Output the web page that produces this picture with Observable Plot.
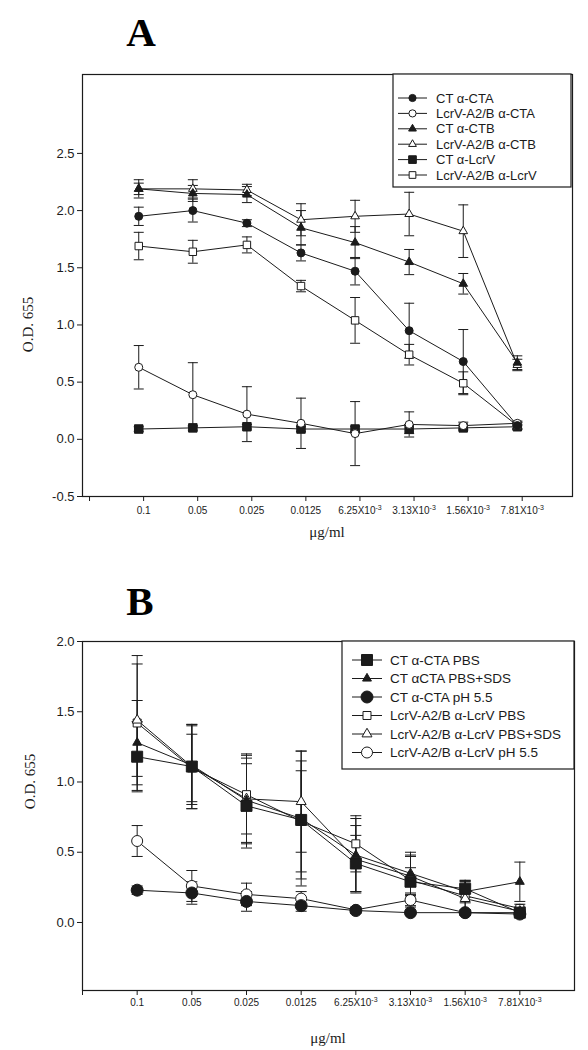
<!DOCTYPE html>
<html><head><meta charset="utf-8">
<script src="https://cdn.jsdelivr.net/npm/d3@7"></script>
<script src="https://cdn.jsdelivr.net/npm/@observablehq/plot@0.6"></script>
<style>
body{margin:0;background:#fff;}
#root{position:relative;width:588px;height:1050px;background:#fff;overflow:hidden;}
#root svg{position:absolute;left:0;}
</style>
</head><body><div id="root"></div>
<script>
// ---------- shared axis categories ----------
const concLabels = ["0.1","0.05","0.025","0.0125","6.25X10-3","3.13X10-3","1.56X10-3","7.81X10-3"];
const yTicksA = [-0.5, 0, 0.5, 1.0, 1.5, 2.0, 2.5];
const yTicksB = [0, 0.5, 1.0, 1.5, 2.0];

// ---------- Panel A ----------
const seriesA = ["CT \u03b1-CTA","LcrV-A2/B \u03b1-CTA","CT \u03b1-CTB","LcrV-A2/B \u03b1-CTB","CT \u03b1-LcrV","LcrV-A2/B \u03b1-LcrV"];
const aCtCta     = [1.95, 2.00, 1.89, 1.63, 1.47, 0.95, 0.68, 0.12];
const aCtCtaErr  = [0.08, 0.10, 0.03, 0.07, 0.12, 0.24, 0.28, 0.03];
const aLcrCta    = [0.63, 0.39, 0.22, 0.14, 0.05, 0.13, 0.12, 0.14];
const aLcrCtaErr = [0.19, 0.28, 0.24, 0.22, 0.28, 0.11, 0.03, 0.02];
const aCtCtb     = [2.19, 2.15, 2.14, 1.85, 1.72, 1.55, 1.36, 0.67];
const aCtCtbErr  = [0.08, 0.07, 0.07, 0.15, 0.14, 0.11, 0.09, 0.06];
const aLcrCtb    = [2.19, 2.19, 2.18, 1.92, 1.95, 1.97, 1.82, 0.65];
const aLcrCtbErr = [0.05, 0.08, 0.05, 0.14, 0.14, 0.19, 0.23, 0.05];
const aCtLcr     = [0.09, 0.10, 0.11, 0.09, 0.09, 0.09, 0.10, 0.11];
const aCtLcrErr  = [0.02, 0.02, 0.02, 0.02, 0.02, 0.04, 0.02, 0.02];
const aLcrLcr    = [1.69, 1.64, 1.70, 1.34, 1.04, 0.74, 0.49, 0.12];
const aLcrLcrErr = [0.12, 0.10, 0.07, 0.05, 0.20, 0.09, 0.10, 0.03];

// ---------- Panel B ----------
const seriesB = ["CT \u03b1-CTA PBS","CT \u03b1CTA PBS+SDS","CT \u03b1-CTA pH 5.5","LcrV-A2/B \u03b1-LcrV PBS","LcrV-A2/B \u03b1-LcrV PBS+SDS","LcrV-A2/B \u03b1-LcrV pH 5.5"];
const bCtPbs     = [1.18, 1.11, 0.83, 0.73, 0.42, 0.29, 0.24, 0.07];
const bCtPbsErr  = [0.25, 0.30, 0.30, 0.42, 0.20, 0.10, 0.06, 0.02];
const bCtSds     = [1.28, 1.12, 0.87, 0.74, 0.48, 0.35, 0.22, 0.29];
const bCtSdsErr  = [0.30, 0.28, 0.30, 0.48, 0.26, 0.15, 0.08, 0.14];
const bCtPh      = [0.23, 0.21, 0.15, 0.12, 0.085, 0.07, 0.07, 0.06];
const bCtPhErr   = [0.03, 0.08, 0.07, 0.04, 0.02, 0.01, 0.01, 0.01];
const bLcrPbs    = [1.42, 1.10, 0.91, 0.72, 0.56, 0.30, 0.19, 0.10];
const bLcrPbsErr = [0.48, 0.24, 0.28, 0.36, 0.20, 0.18, 0.10, 0.03];
const bLcrSds    = [1.44, 1.11, 0.88, 0.86, 0.45, 0.33, 0.17, 0.08];
const bLcrSdsErr = [0.40, 0.30, 0.32, 0.36, 0.24, 0.14, 0.12, 0.03];
const bLcrPh     = [0.58, 0.26, 0.20, 0.17, 0.09, 0.16, 0.07, 0.07];
const bLcrPhErr  = [0.11, 0.11, 0.08, 0.05, 0.02, 0.05, 0.02, 0.02];

// ---------- styles ----------
const ink = "#1b1b1b";
const symA = ["circle","circle","triangle","triangle","square","square"];
const filledA = [true,false,true,false,true,false];
const rA = [4, 4, 3.2, 3.2, 4.8, 4.2];
const symB = ["square","triangle","circle","square","triangle","circle"];
const filledB = [true,true,true,false,false,false];
const rB = [6.2, 3.3, 6, 4.5, 3.7, 5.5];
const d3sym = {circle: d3.symbolCircle, square: d3.symbolSquare, triangle: d3.symbolTriangle};

function makeRows(names, vals, errs) {
  return names.flatMap((s, k) => vals[k].map((v, j) => ({series: s, k, i: j + 1, y: v, e: errs[k][j]})));
}
function capSymbol(half) {
  return {draw(ctx) { ctx.moveTo(-half, 0); ctx.lineTo(half, 0); }};
}

function panel(cfg) {
  const rows = makeRows(cfg.names, cfg.vals, cfg.errs);
  const cap = capSymbol(cfg.capHalf);
  const xTicks = d3.range(0, 9).map(t => t + cfg.tickShift);
  const marks = [
    Plot.frame({stroke: ink, strokeWidth: 1.2}),
    Plot.axisY({ticks: cfg.yTicks, tickFormat: d => d.toFixed(1), tickSize: 5, tickPadding: 3, fontSize: 13, label: null}),
    Plot.axisX({ticks: xTicks, tickFormat: t => { const p = Math.round(t - cfg.tickShift); return p < 1 ? "" : concLabels[p - 1]; },
      tickSize: 5, tickPadding: cfg.tickPadX, fontSize: 10, label: null}),
    Plot.ruleX(rows, {x: "i", y1: d => d.y - d.e, y2: d => d.y + d.e, stroke: ink, strokeWidth: 1}),
    Plot.dot(rows, {x: "i", y: d => d.y + d.e, symbol: cap, fill: "none", stroke: ink, strokeWidth: 1}),
    Plot.dot(rows, {x: "i", y: d => d.y - d.e, symbol: cap, fill: "none", stroke: ink, strokeWidth: 1}),
    Plot.line(rows, {x: "i", y: "y", z: "series", stroke: ink, strokeWidth: 1})
  ];
  cfg.order.forEach(k => {
    marks.push(Plot.dot(rows.filter(d => d.k === k), {x: "i", y: "y", symbol: cfg.sym[k], r: cfg.r[k],
      fill: cfg.filled[k] ? ink : "white", stroke: ink, strokeWidth: 1}));
  });
  const plot = Plot.plot({
    width: 588, height: cfg.height,
    marginLeft: 82, marginRight: cfg.mr, marginTop: cfg.mt, marginBottom: cfg.mb,
    x: {domain: cfg.xDomain}, y: {domain: cfg.yDomain},
    style: {fontFamily: "'Liberation Sans', Arial, sans-serif", color: ink, background: "white", overflow: "visible"},
    marks
  });
  plot.style.top = cfg.top + "px";
  const svg = d3.select(plot);
  // superscripts on tick labels
  svg.selectAll("text").each(function() {
    const t = this.textContent;
    if (t.includes("X10-")) {
      const [a, b] = t.split("X10");
      const sel = d3.select(this); sel.text(null);
      sel.append("tspan").text(a + "X10");
      sel.append("tspan").attr("dy", "-0.45em").attr("font-size", "7px").text(b);
    }
  });
  const xs = plot.scale("x"), ys = plot.scale("y");
  const left = xs.apply(cfg.xDomain[0]), right = xs.apply(cfg.xDomain[1]);
  const bottom = ys.apply(cfg.yDomain[0]);
  const yMid = (ys.apply(cfg.yTicks[0]) + ys.apply(cfg.yTicks[cfg.yTicks.length - 1])) / 2;
  // axis titles
  svg.append("text").attr("transform", `translate(${cfg.yLabelX},${yMid}) rotate(-90)`)
    .attr("text-anchor", "middle").attr("dy", "0.35em")
    .attr("font-family", "'Liberation Serif', 'Times New Roman', serif").attr("font-size", 15).attr("fill", ink).text("O.D. 655");
  svg.append("text").attr("x", (left + right) / 2).attr("y", bottom + cfg.xLabelDy)
    .attr("text-anchor", "middle").attr("dy", "0.35em")
    .attr("font-family", "'Liberation Serif', 'Times New Roman', serif").attr("font-size", 15).attr("fill", ink).text("\u03bcg/ml");
  // panel letter
  svg.append("text").attr("x", cfg.letterX).attr("y", cfg.letterY).attr("text-anchor", "middle")
    .attr("font-family", "'Liberation Serif', 'Times New Roman', serif").attr("font-weight", "bold").attr("font-size", 41)
    .attr("fill", "#000").text(cfg.letter);
  // legend
  const L = cfg.legend;
  const g = svg.append("g").attr("text-anchor", "start");
  g.append("rect").attr("x", L.x).attr("y", L.y).attr("width", L.w).attr("height", L.h)
    .attr("fill", "white").attr("stroke", ink).attr("stroke-width", 1.2);
  cfg.names.forEach((s, k) => {
    const cy = L.y0 + k * L.dy;
    g.append("line").attr("x1", L.lx1).attr("x2", L.lx2).attr("y1", cy).attr("y2", cy).attr("stroke", ink).attr("stroke-width", 1);
    const rr = cfg.r[k] * L.rScale;
    g.append("path").attr("d", d3.symbol(d3sym[cfg.sym[k]], Math.PI * rr * rr)())
      .attr("transform", `translate(${(L.lx1 + L.lx2) / 2},${cy})`)
      .attr("fill", cfg.filled[k] ? ink : "white").attr("stroke", ink).attr("stroke-width", 1);
    g.append("text").attr("x", L.tx).attr("y", cy).attr("dy", "0.35em").attr("text-anchor", "start")
      .attr("font-size", L.fs).attr("fill", ink).text(s);
  });
  return plot;
}

const root = document.getElementById("root");

root.append(panel({
  names: seriesA,
  vals: [aCtCta, aLcrCta, aCtCtb, aLcrCtb, aCtLcr, aLcrLcr],
  errs: [aCtCtaErr, aLcrCtaErr, aCtCtbErr, aLcrCtbErr, aCtLcrErr, aLcrLcrErr],
  sym: symA, filled: filledA, r: rA, order: [4, 5, 1, 0, 3, 2],
  top: 0, height: 545, mt: 74, mb: 49, mr: 16,
  xDomain: [-0.04, 9.02], yDomain: [-0.5, 3.19], yTicks: yTicksA, tickShift: 0.09,
  tickPadX: 5, capHalf: 5, yLabelX: 28, xLabelDy: 36,
  letter: "A", letterX: 141, letterY: 46,
  legend: {x: 393, y: 74, w: 178, h: 113, y0: 98, dy: 15.4, lx1: 398, lx2: 427, tx: 436, fs: 13, rScale: 0.9}
}));

root.append(panel({
  names: seriesB,
  vals: [bCtPbs, bCtSds, bCtPh, bLcrPbs, bLcrSds, bLcrPh],
  errs: [bCtPbsErr, bCtSdsErr, bCtPhErr, bLcrPbsErr, bLcrSdsErr, bLcrPhErr],
  sym: symB, filled: filledB, r: rB, order: [3, 4, 5, 1, 0, 2],
  top: 560, height: 490, mt: 81, mb: 60, mr: 14,
  xDomain: [0, 9], yDomain: [-0.484, 2.0], yTicks: yTicksB, tickShift: 0,
  tickPadX: 3, capHalf: 5.5, yLabelX: 30, xLabelDy: 48,
  letter: "B", letterX: 140, letterY: 55,
  legend: {x: 342, y: 81, w: 232, h: 128, y0: 100, dy: 18.5, lx1: 352, lx2: 382, tx: 390, fs: 13.5, rScale: 1}
}));
</script>
</body></html>
